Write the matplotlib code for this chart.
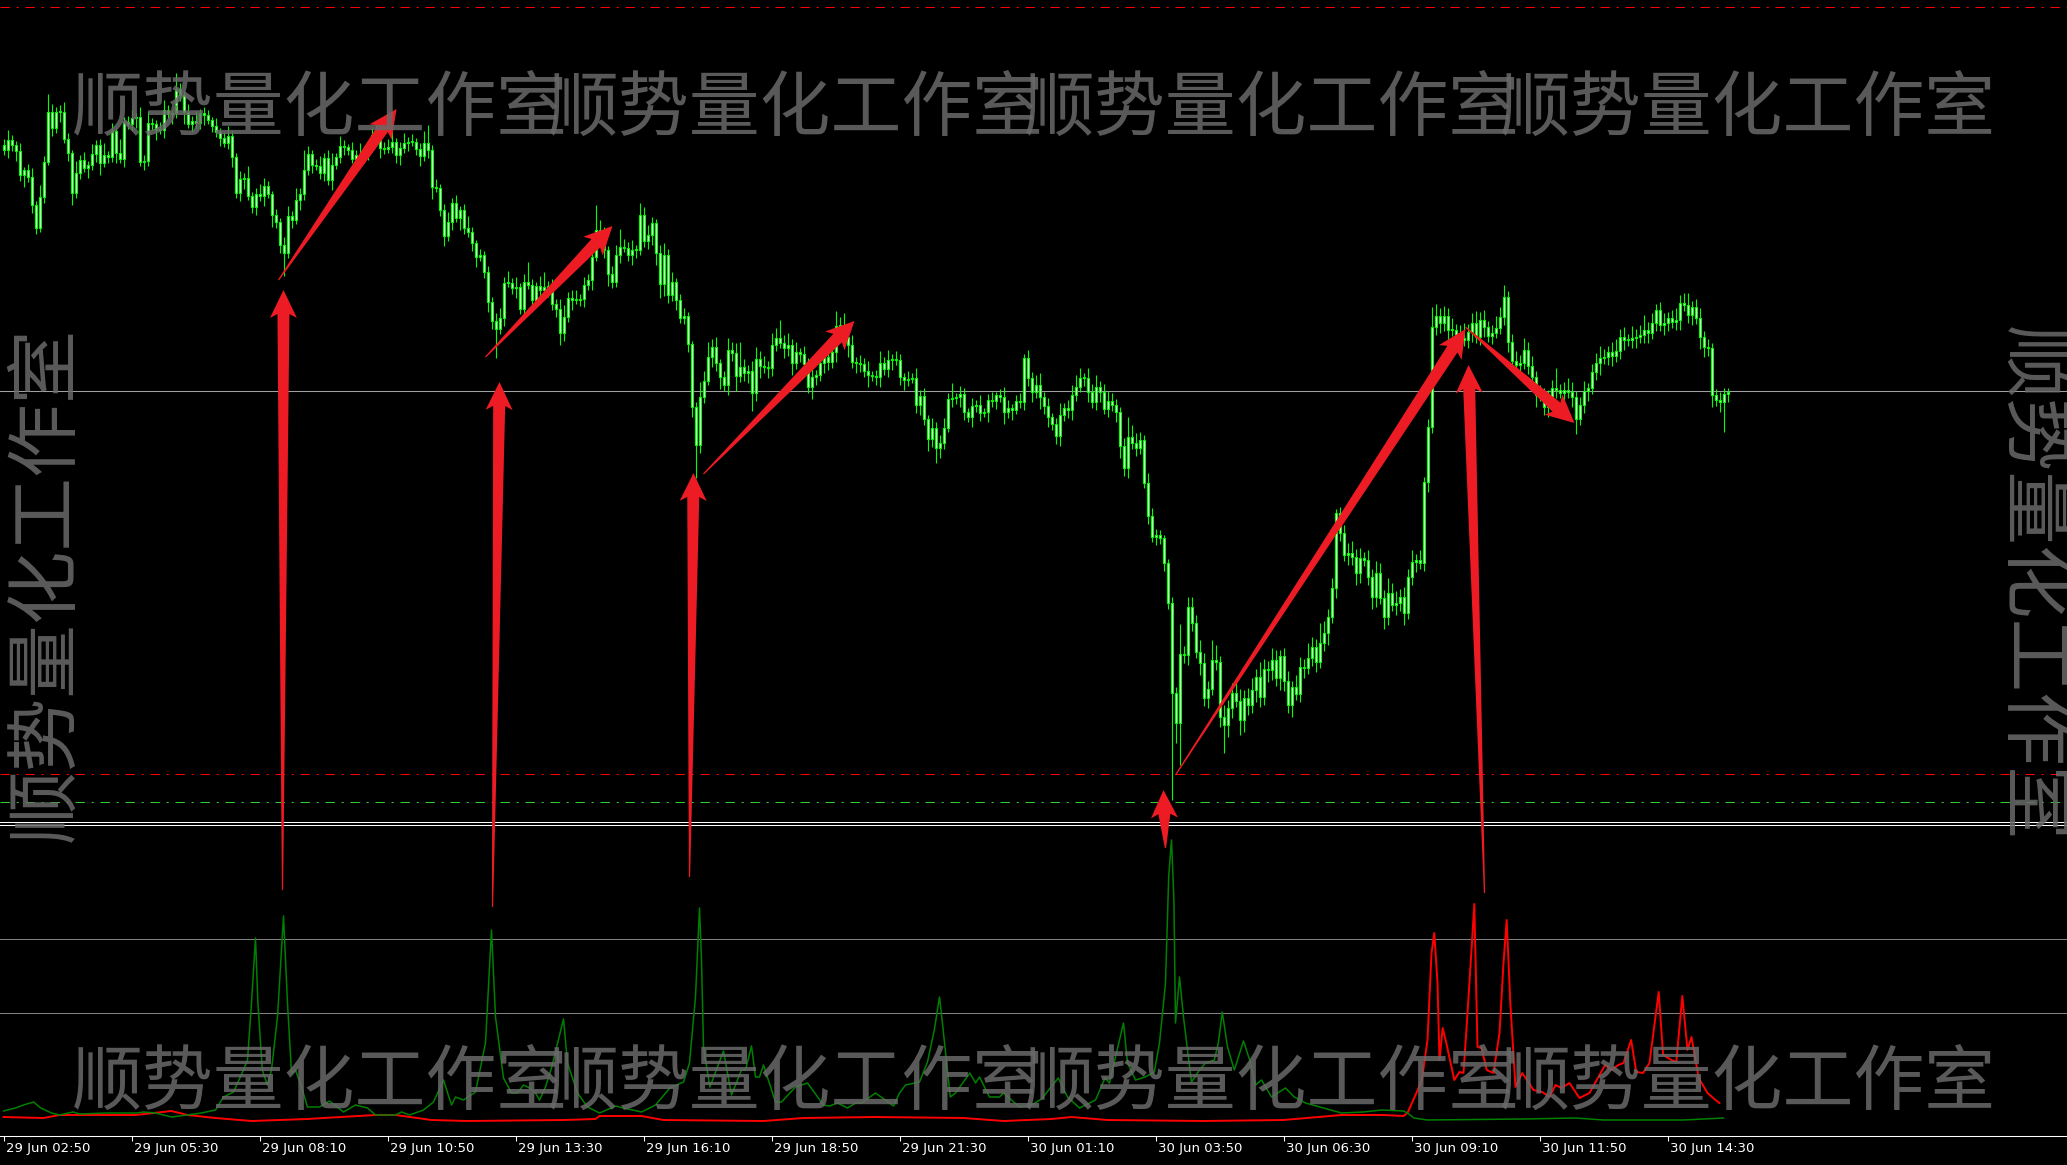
import numpy as np
import matplotlib
matplotlib.use("Agg")
import matplotlib.pyplot as plt
from matplotlib.patches import Polygon
from matplotlib.transforms import ScaledTranslation

W, H, DPI = 2067, 1165, 100

# M5 closes (price in points), one per bar
close = [
    850, 860, 855, 849, 825, 830, 823, 795, 772, 803,
    838, 888, 872, 888, 888, 861, 847, 807, 827, 840,
    832, 835, 846, 855, 837, 845, 843, 869, 847, 841,
    878, 876, 882, 883, 838, 839, 877, 876, 870, 870,
    890, 886, 887, 911, 905, 888, 876, 879, 877, 887,
    885, 880, 874, 868, 862, 857, 864, 843, 807, 821,
    822, 804, 793, 806, 804, 814, 806, 785, 778, 755,
    747, 784, 780, 800, 806, 830, 846, 835, 834, 827,
    842, 820, 835, 843, 854, 853, 850, 841, 845, 842,
    848, 852, 865, 860, 852, 851, 853, 858, 845, 852,
    857, 858, 858, 851, 844, 857, 850, 813, 812, 790,
    764, 778, 797, 782, 790, 772, 768, 757, 743, 745,
    728, 698, 679, 671, 682, 717, 717, 712, 713, 691,
    718, 715, 700, 714, 710, 713, 713, 696, 691, 667,
    683, 702, 700, 700, 701, 715, 720, 743, 770, 767,
    750, 726, 718, 745, 753, 752, 745, 750, 750, 785,
    759, 765, 777, 747, 716, 745, 705, 718, 700, 682,
    684, 656, 593, 555, 603, 619, 643, 653, 637, 623,
    615, 650, 647, 624, 633, 627, 629, 607, 641, 634,
    633, 632, 655, 662, 657, 652, 655, 637, 648, 646,
    636, 613, 623, 625, 637, 643, 638, 648, 674, 675,
    663, 655, 638, 637, 636, 629, 625, 624, 623, 637,
    631, 640, 641, 640, 623, 620, 621, 622, 595, 604,
    581, 561, 572, 552, 557, 572, 601, 602, 603, 606,
    588, 583, 594, 595, 587, 588, 600, 599, 605, 603,
    588, 592, 590, 599, 598, 642, 622, 608, 615, 603,
    594, 583, 576, 564, 585, 592, 590, 605, 613, 622,
    622, 608, 598, 613, 608, 591, 599, 595, 588, 554,
    532, 563, 557, 552, 560, 517, 484, 463, 465, 462,
    437, 397, 307, 277, 346, 345, 393, 377, 348, 337,
    302, 311, 340, 338, 283, 275, 292, 307, 299, 280,
    302, 295, 310, 323, 303, 331, 330, 340, 322, 344,
    319, 295, 313, 306, 333, 332, 342, 353, 338, 357,
    367, 383, 412, 487, 467, 445, 447, 443, 427, 442,
    440, 423, 403, 427, 402, 383, 407, 395, 397, 403,
    387, 423, 438, 440, 437, 518, 573, 673, 684, 677,
    684, 670, 670, 665, 662, 660, 668, 677, 663, 680,
    673, 664, 667, 672, 683, 703, 658, 639, 635, 637,
    650, 634, 623, 605, 607, 593, 600, 612, 610, 607,
    610, 608, 603, 581, 595, 609, 612, 628, 637, 642,
    643, 648, 644, 649, 663, 660, 660, 662, 663, 665,
    670, 667, 677, 690, 675, 677, 682, 678, 680, 697,
    695, 685, 693, 682, 663, 653, 652, 605, 600, 598,
    606, 608,
]
first_open = 855

upper_wick = [
    6, 10, 5, 4, 8, 3, 6, 9, 4, 12, 6, 18, 8, 5, 7, 10, 6, 3, 12, 5,
    8, 4, 10, 5, 6, 12, 4, 8, 3, 14, 5, 6, 8, 4, 10, 6, 12, 5, 4, 8,
    10, 5, 3, 16, 6, 4, 8, 5, 10, 4, 6, 5, 3, 8, 4, 6, 10, 5, 4, 8,
    5, 12, 4, 6, 10, 8, 5, 3, 6, 4, 8, 10, 5, 12, 6, 20, 8, 4, 6, 10,
    5, 8, 12, 4, 10, 6, 3, 8, 5, 12, 6, 4, 8, 10, 5, 6, 8, 12, 4, 6,
    10, 5, 8, 4, 6, 12, 18, 5, 8, 4, 6, 10, 5, 8, 4, 6, 12, 5, 3, 6,
    4, 6, 5, 8, 10, 6, 12, 5, 10, 4, 8, 20, 6, 4, 10, 15, 6, 8, 5, 10,
    12, 6, 8, 10, 5, 8, 6, 12, 25, 10, 6, 4, 8, 10, 18, 8, 6, 10, 5, 12,
    8, 10, 6, 4, 8, 12, 6, 10, 4, 6, 8, 4, 3, 5, 15, 10, 15, 8, 10, 4,
    6, 12, 8, 10, 25, 8, 6, 10, 12, 8, 10, 6, 12, 10, 18, 8, 12, 6, 10, 4,
    8, 6, 10, 5, 12, 8, 6, 10, 15, 8, 12, 6, 10, 5, 8, 6, 10, 4, 6, 12,
    6, 10, 5, 8, 6, 4, 8, 5, 10, 6, 8, 4, 10, 6, 8, 10, 6, 15, 4, 8,
    6, 4, 8, 5, 10, 4, 6, 8, 3, 6, 10, 8, 4, 6, 8, 4, 8, 6, 10, 12,
    5, 8, 4, 6, 12, 5, 8, 10, 12, 10, 5, 10, 8, 12, 6, 8, 10, 8, 6, 5,
    8, 20, 12, 10, 8, 5, 10, 8, 6, 5, 3, 4, 6, 6, 30, 8, 10, 10, 8, 12,
    10, 8, 20, 15, 6, 12, 8, 10, 15, 12, 8, 10, 12, 8, 15, 10, 8, 12, 10, 6,
    8, 10, 6, 12, 10, 8, 15, 10, 8, 20, 12, 8, 10, 4, 6, 8, 10, 12, 8, 10,
    6, 10, 8, 12, 10, 8, 15, 10, 12, 8, 10, 8, 12, 6, 10, 5, 8, 20, 12, 8,
    10, 8, 12, 6, 10, 15, 8, 10, 12, 8, 10, 6, 8, 12, 10, 12, 6, 8, 10, 8,
    12, 8, 10, 6, 8, 5, 10, 8, 20, 6, 8, 12, 10, 6, 8, 10, 5, 8, 10, 12,
    8, 6, 10, 12, 8, 10, 6, 12, 8, 10, 15, 8, 10, 6, 8, 10, 6, 8, 12, 8,
    10, 12, 6, 8, 10, 6, 8, 5, 6, 8, 6, 4,
]
lower_wick = [
    5, 8, 6, 10, 6, 12, 5, 8, 6, 4, 6, 3, 8, 5, 10, 4, 8, 12, 5, 6,
    4, 10, 5, 8, 12, 4, 6, 5, 10, 4, 8, 5, 6, 10, 4, 8, 5, 6, 10, 4,
    8, 4, 10, 5, 6, 12, 4, 8, 5, 6, 10, 4, 6, 5, 8, 4, 6, 10, 5, 8,
    10, 4, 6, 8, 5, 10, 4, 12, 6, 8, 23, 5, 8, 4, 10, 6, 5, 8, 4, 6,
    8, 5, 10, 4, 6, 8, 5, 4, 10, 6, 5, 8, 4, 6, 10, 5, 4, 6, 8, 10,
    5, 8, 4, 6, 10, 5, 8, 12, 4, 6, 10, 5, 8, 4, 12, 6, 5, 8, 10, 4,
    6, 10, 8, 29, 5, 8, 4, 6, 10, 5, 8, 4, 10, 6, 8, 5, 10, 6, 8, 12,
    8, 5, 10, 4, 6, 8, 5, 10, 4, 6, 8, 12, 6, 5, 8, 4, 6, 10, 8, 5,
    6, 8, 10, 12, 14, 12, 8, 6, 10, 5, 6, 8, 10, 33, 8, 6, 4, 10, 8, 12,
    6, 10, 8, 15, 6, 8, 10, 18, 8, 12, 6, 10, 8, 6, 5, 10, 8, 12, 6, 8,
    10, 6, 12, 8, 6, 10, 8, 6, 10, 5, 8, 12, 6, 10, 8, 6, 12, 5, 8, 10,
    6, 8, 10, 5, 8, 10, 6, 4, 8, 10, 6, 12, 8, 15, 10, 6, 4, 8, 6, 10,
    8, 5, 10, 6, 8, 4, 10, 6, 8, 5, 12, 6, 10, 4, 6, 8, 8, 10, 6, 12,
    8, 10, 6, 8, 10, 6, 8, 10, 6, 5, 8, 10, 6, 8, 10, 5, 8, 6, 10, 12,
    8, 10, 6, 8, 6, 5, 8, 5, 8, 6, 8, 6, 107, 20, 42, 8, 10, 8, 6, 12,
    8, 10, 6, 8, 10, 28, 12, 10, 6, 15, 12, 10, 8, 12, 10, 8, 12, 10, 8, 12,
    10, 8, 12, 6, 8, 10, 6, 8, 10, 6, 8, 12, 6, 10, 8, 6, 10, 8, 12, 10,
    6, 8, 12, 10, 6, 12, 8, 6, 10, 8, 12, 6, 8, 10, 6, 8, 10, 6, 8, 10,
    8, 10, 6, 8, 12, 6, 8, 10, 6, 8, 10, 6, 8, 5, 6, 8, 10, 6, 8, 12,
    6, 8, 10, 12, 6, 8, 10, 6, 8, 5, 8, 6, 10, 15, 6, 8, 10, 6, 8, 12,
    6, 8, 10, 6, 8, 10, 6, 8, 10, 6, 8, 10, 6, 8, 6, 10, 8, 6, 8, 10,
    6, 8, 10, 6, 12, 10, 8, 12, 6, 10, 30, 8,
]

# indicator window: bull line (green) and bear line (red), vertices by bar
green_idx = [0, 3, 5, 7.5, 9.3, 12, 14, 17.4, 19, 26, 33.4, 35, 38, 42, 46, 49.5, 53, 55, 57.5, 60,
             61, 62, 63, 63.6, 64.7, 66, 67, 68.5, 70, 71, 72, 73, 74.5, 76, 79, 81.5, 85, 88, 91, 93,
             98, 99.5, 101.5, 105, 107.5, 110, 112, 113, 115, 118, 120.5, 122, 123, 125, 127, 128.5, 130, 131.5, 133, 134,
             135.5, 137, 140, 141, 143.5, 146, 149, 153, 155, 159.5, 163, 166.6, 170, 171.5, 173, 174, 174.5, 175, 176.6, 180,
             182, 184.5, 185.5, 187, 188, 189, 190, 193, 194.5, 198, 201, 205, 206.5, 208.5, 211, 213, 214.5, 218, 222.5, 224,
             225.5, 229, 231, 232.7, 234, 235, 236.7, 238, 241.6, 243, 244, 246.5, 249, 250, 254, 257, 259.5, 263.7, 266, 269,
             273, 275.4, 276.5, 278, 280, 281, 283, 285.4, 287.7, 289, 290.5, 291.3, 292, 292.6, 293, 294, 295, 296, 297, 299,
             300.5, 302.7, 303.7, 304.7, 306, 307.7, 310, 311.7, 313, 314.5, 317, 320.5, 322.7, 325.5, 330, 334.5, 340, 344.5, 350, 351,
             352.6, 356, 380, 393, 400, 420, 430]
green_val = [24, 27, 30, 33, 27, 22, 20, 23, 21, 22, 22, 23, 22, 18, 20, 22, 25, 38, 43, 65,
             75, 132, 197, 132, 65, 50, 65, 118, 219, 132, 62, 65, 48, 28, 28, 34, 23, 30, 27, 20,
             20, 23, 20, 25, 33, 55, 30, 38, 35, 43, 92, 205, 118, 57, 42, 42, 50, 47, 42, 35,
             48, 67, 116, 72, 42, 28, 22, 29, 27, 23, 30, 47, 53, 72, 138, 227, 175, 88, 48, 84,
             40, 65, 65, 89, 58, 58, 70, 33, 33, 48, 52, 30, 29, 32, 27, 32, 32, 42, 29, 42,
             50, 53, 73, 105, 138, 102, 38, 42, 62, 52, 58, 38, 38, 42, 28, 30, 36, 57, 38, 27,
             35, 57, 52, 78, 112, 72, 55, 58, 63, 92, 152, 258, 295, 235, 112, 158, 118, 85, 53, 65,
             72, 75, 92, 123, 88, 65, 94, 73, 50, 55, 38, 47, 38, 32, 27, 22, 23, 25, 24, 22,
             17, 15, 16, 17, 15, 15, 17]

red_idx = [0, 10, 14, 22, 33, 42, 46, 53, 62, 76, 80, 93, 98, 107, 116, 140, 148, 149, 159.5, 165,
           190, 200, 218, 240, 250, 262, 267, 276, 300, 320, 334.5, 345, 350, 351, 353, 354.6, 356, 357, 357.7, 358.5,
           359, 359.8, 360.7, 362.7, 364, 365, 366, 367, 367.7, 368.5, 369.5, 370.8, 372.5, 374, 375, 375.8, 376.7, 378, 379.7, 382.5,
           384.7, 386.5, 388, 389.5, 391.5, 394, 396.5, 400.4, 402, 403.7, 405, 406.9, 408.2, 409.9, 411.5, 413.8, 414.9, 417, 418.2, 419.7,
           421, 422, 423.8, 426, 428, 429]
red_val = [18, 17, 20, 20, 20, 24, 20, 17, 14, 16, 17, 20, 20, 15, 14, 15, 16, 19, 19, 15,
           14, 17, 18, 17, 14, 16, 18, 15, 14, 15, 20, 20, 19, 22, 40, 55, 95, 182, 202, 152,
           75, 107, 92, 55, 63, 62, 122, 185, 231, 88, 87, 65, 62, 102, 172, 215, 132, 48, 62, 45,
           43, 38, 50, 47, 52, 37, 42, 70, 65, 70, 72, 95, 63, 62, 72, 143, 80, 75, 73, 139,
           85, 98, 57, 42, 35, 32]
ind_levels = [196, 122]

tick_bars = [0, 32, 64, 96, 128, 160, 192, 224, 256, 288, 320, 352, 384, 416]
tick_labels = ["29 Jun 02:50", "29 Jun 05:30", "29 Jun 08:10", "29 Jun 10:50", "29 Jun 13:30",
               "29 Jun 16:10", "29 Jun 18:50", "29 Jun 21:30", "30 Jun 01:10", "30 Jun 03:50",
               "30 Jun 06:30", "30 Jun 09:10", "30 Jun 11:50", "30 Jun 14:30"]

# horizontal levels on the price window
level_values = [993, 609, 226, 198]
level_colors = ["#ff0000", "#a0a0a0", "#ff0000", "#32cd32"]
level_dashed = [True, False, True, True]

# hand drawn arrows: (bar, price) tail -> head
arrow_x0 = [69.75, 122.25, 171.5, 290.5, 370.25, 68.75, 120.5, 175.0, 293.0, 365.5]
arrow_y0 = [110, 93, 123, 152, 107, 720, 643, 526, 225, 673]
arrow_x1 = [70.0, 124.0, 172.5, 290.0, 366.25, 98.25, 152.25, 212.75, 365.5, 392.75]
arrow_y1 = [710, 618, 527, 210, 635, 891, 774, 679, 671, 577]

watermark = "顺势量化工作室"

LIME = "#00ff00"
ARROW_RED = "#ed1c24"

fig = plt.figure(figsize=(W / DPI, H / DPI), dpi=DPI, facecolor="black")

ax = fig.add_axes([0, 1 - 822 / H, 1, 822 / H])
ind = fig.add_axes([0, 1 - 1136 / H, 1, 311 / H], sharex=ax)
ax.set_zorder(2)
ind.set_zorder(1)
ax.patch.set_visible(False)
ind.set_facecolor("black")

n = len(close)
x = np.arange(n)
c = np.array(close, float)
o = np.r_[first_open, c[:-1]]
top = np.maximum(o, c)
bot = np.minimum(o, c)
hi = top + np.array(upper_wick)
lo = bot - np.array(lower_wick)

ax.set_xlim(-0.875, (W - 3.5) / 4)
ax.set_ylim(178, 1000)

for v, col, dashed in zip(level_values, level_colors, level_dashed):
    ls = (0, (9, 6.5, 2, 6.5)) if dashed else "-"
    ax.axhline(v, color=col, lw=0.75, ls=ls, zorder=1)

ax.vlines(x, lo, hi, color=LIME, lw=0.8, zorder=3)
ax.bar(x, np.maximum(top - bot, 1), bottom=bot, width=0.5,
       facecolor="white", edgecolor=LIME, lw=0.8, zorder=4)


def add_arrow(axis, x0, y0, x1, y1, shaft=12.0, head_w=27.0, head_l=24.0):
    p0 = axis.transData.transform((x0, y0))
    p1 = axis.transData.transform((x1, y1))
    d = p1 - p0
    u = d / np.hypot(*d)
    nv = np.array([-u[1], u[0]])
    pb = p1 - u * head_l
    pts = [p0 + nv * 0.6, pb + nv * shaft / 2, pb - u * 4 + nv * head_w / 2, p1,
           pb - u * 4 - nv * head_w / 2, pb - nv * shaft / 2, p0 - nv * 0.6]
    pts = axis.transData.inverted().transform(pts)
    axis.add_patch(Polygon(pts, closed=True, facecolor=ARROW_RED, edgecolor="none",
                           clip_on=False, zorder=6))


for x0, y0, x1, y1 in zip(arrow_x0, arrow_y0, arrow_x1, arrow_y1):
    add_arrow(ax, x0, y0, x1, y1)

for sp in ["top", "left", "right"]:
    ax.spines[sp].set_visible(False)
ax.spines["bottom"].set_color("white")
ax.spines["bottom"].set_linewidth(0.75)
ax.tick_params(left=False, labelleft=False, bottom=False, labelbottom=False)

# indicator window
ind.set_ylim(-1, 310)
for v in ind_levels:
    ind.axhline(v, color="#808080", lw=0.75, zorder=1)
ind.plot(red_idx, red_val, color="#ff0000", lw=1.4, zorder=3)
ind.plot(green_idx, green_val, color="#008000", lw=1.1, zorder=4)

for sp in ["left", "right"]:
    ind.spines[sp].set_visible(False)
for sp in ["top", "bottom"]:
    ind.spines[sp].set_color("white")
    ind.spines[sp].set_linewidth(0.75)
ind.tick_params(left=False, labelleft=False)
ind.set_xticks(tick_bars)
ind.set_xticklabels(tick_labels, fontsize=9.5, color="white", family="DejaVu Sans")
ind.tick_params(axis="x", colors="white", length=3.6, width=0.75, pad=1.0, direction="out")
offset = ScaledTranslation(2 / DPI, 0, fig.dpi_scale_trans)
for lab in ind.get_xticklabels():
    lab.set_ha("left")
    lab.set_transform(lab.get_transform() + offset)

# watermark text
wm = dict(family=["Noto Sans CJK SC", "DejaVu Sans"], color="#6a6a6a", alpha=0.85, zorder=10)
for k in range(4):
    fig.text((72 + 476 * k) / W, 1 - 109 / H, watermark, ha="left", va="center", fontsize=51, **wm)
    fig.text((72 + 476 * k) / W, 1 - 1083 / H, watermark, ha="left", va="center", fontsize=51, **wm)
fig.text(47 / W, 1 - 584 / H, watermark, ha="center", va="center", rotation=90, fontsize=53, **wm)
fig.text(2032 / W, 1 - 584 / H, watermark, ha="center", va="center", rotation=-90, fontsize=53, **wm)

fig.savefig("out.png", dpi=DPI, facecolor="black")
